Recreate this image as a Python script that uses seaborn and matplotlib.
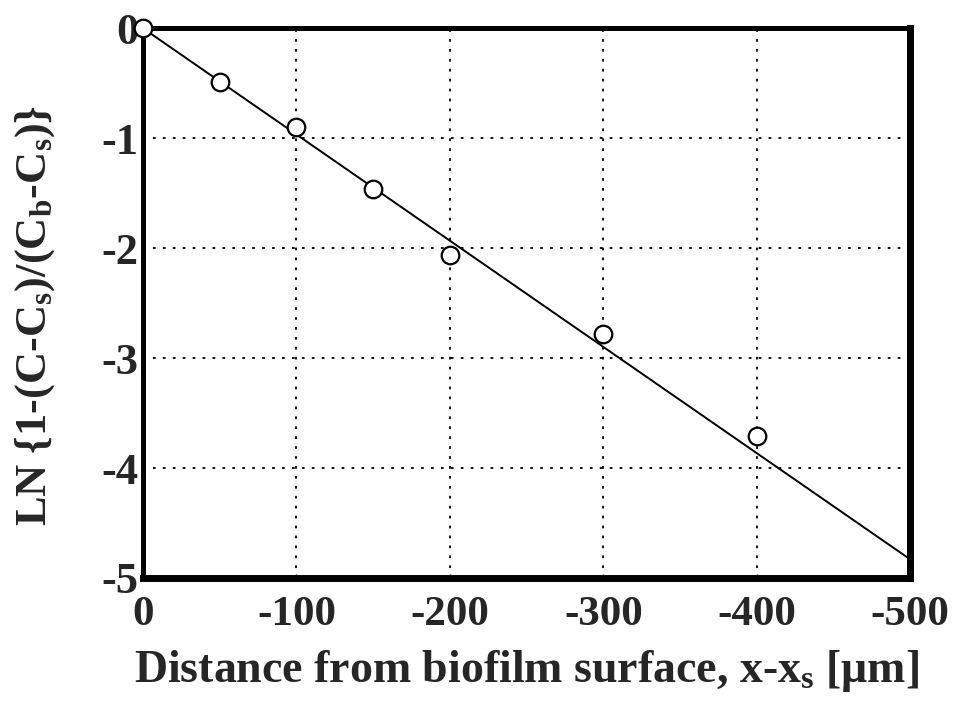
import matplotlib
matplotlib.use("Agg")
import matplotlib.pyplot as plt
import seaborn as sns
import pandas as pd

# Measured profile
distance = [0, -50, -100, -150, -200, -300, -400]
ln_ratio = [0.0, -0.49, -0.90, -1.46, -2.06, -2.78, -3.71]

# Linear fit through the origin
fit_distance = [0, -500]
fit_ln_ratio = [0.0, -4.83]

x_ticks = [0, -100, -200, -300, -400, -500]
y_ticks = [0, -1, -2, -3, -4, -5]

sns.set_style("white")
plt.rcParams["font.family"] = ["Liberation Serif", "DejaVu Serif"]
plt.rcParams["font.weight"] = "bold"
plt.rcParams["mathtext.fontset"] = "custom"
plt.rcParams["mathtext.rm"] = "Liberation Serif:bold"
plt.rcParams["mathtext.it"] = "Liberation Serif:bold"
plt.rcParams["mathtext.bf"] = "Liberation Serif:bold"

fig = plt.figure(figsize=(9.6, 7.07), dpi=100)
ax = fig.add_axes([0.149, 0.1825, 0.799, 0.7775])

df_pts = pd.DataFrame({"x": distance, "y": ln_ratio})
df_fit = pd.DataFrame({"x": fit_distance, "y": fit_ln_ratio})

sns.lineplot(data=df_fit, x="x", y="y", ax=ax, color="black", linewidth=1.4, zorder=3)
sns.scatterplot(data=df_pts, x="x", y="y", ax=ax, marker="o", s=160,
                facecolor="white", edgecolor="black", linewidth=1.6, zorder=4,
                clip_on=False)

ax.set_xlim(0, -500)
ax.set_ylim(-5, 0)
ax.set_xticks(x_ticks)
ax.set_yticks(y_ticks)
ax.set_xticklabels([str(v) for v in x_ticks])
ax.set_yticklabels([str(v) for v in y_ticks])

ax.grid(True, color="black", linestyle=(0, (1.5, 4)), linewidth=1.3)

for side in ["top", "left"]:
    ax.spines[side].set_linewidth(3.6)
    ax.spines[side].set_color("black")
for side in ["bottom", "right"]:
    ax.spines[side].set_linewidth(5.0)
    ax.spines[side].set_color("black")

ax.tick_params(axis="x", direction="in", length=3, width=1, pad=13,
               labelsize=31, bottom=True)
ax.tick_params(axis="y", length=0, pad=3, labelsize=32)
for lab in ax.get_xticklabels() + ax.get_yticklabels():
    lab.set_fontweight("bold")

ax.set_xlabel(r"Distance from biofilm surface, x-x$_\mathrm{ s}$ [$\mathrm{\mu}$m]",
              fontsize=33, fontweight="bold", labelpad=10)
ax.set_ylabel(r"LN {1-(C-C$_\mathrm{s}$)/(C$_\mathrm{b}$-C$_\mathrm{s}$)}",
              fontsize=32, fontweight="bold")
ax.yaxis.set_label_coords(-0.112, 0.478)

fig.savefig("out.png", dpi=100, facecolor="white")
